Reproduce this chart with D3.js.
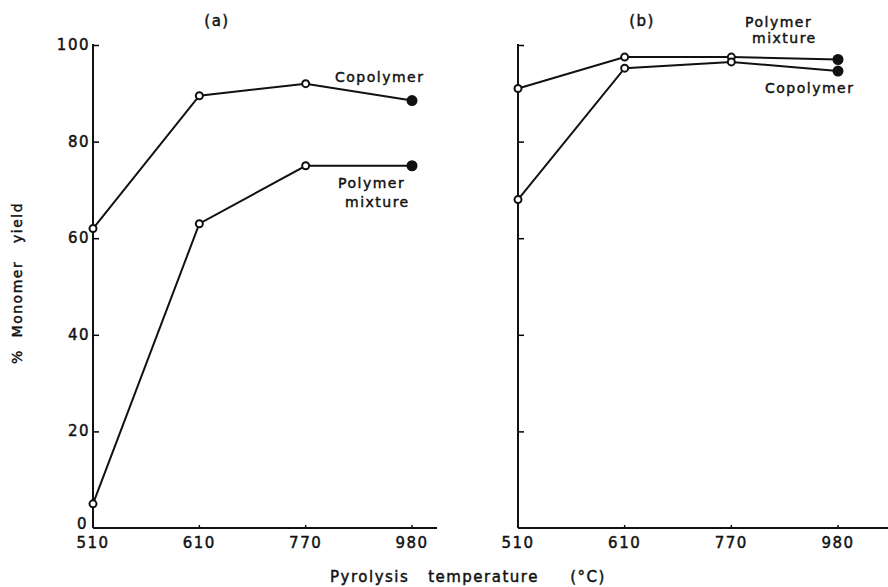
<!DOCTYPE html>
<html>
<head>
<meta charset="utf-8">
<script src="https://cdn.jsdelivr.net/npm/d3@7"></script>
<style>
  body { margin: 0; background: #fff; }
  text { font-family: "DejaVu Sans", sans-serif; fill: #111; stroke: #111; stroke-width: 0.45px; letter-spacing: 1.5px; }
</style>
</head>
<body>
<svg id="chart" width="888" height="587"></svg>
<script>
const temps = ["510", "610", "770", "980"];
const yTicks = [0, 20, 40, 60, 80, 100];

// panel (a)
const copolymerA = [62, 89.5, 92, 88.5];
const mixtureA = [5, 63, 75, 75];

// panel (b)
const mixtureB = [91, 97.5, 97.5, 97];
const copolymerB = [68, 95.2, 96.5, 94.6];

const svg = d3.select("#chart");
const y = d3.scaleLinear().domain([0, 100]).range([528, 45]);

const panels = [
  { title: "(a)", x0: 93, x1: 412, axisEnd: 437, labels: true,
    series: [copolymerA, mixtureA] },
  { title: "(b)", x0: 518, x1: 838, axisEnd: 888, labels: false,
    series: [mixtureB, copolymerB] }
];

panels.forEach(p => {
  const x = d3.scalePoint().domain(temps).range([p.x0, p.x1]);
  const g = svg.append("g");

  // y axis, ticks pointing inward
  const yAxis = d3.axisRight(y).tickValues(yTicks.filter(d => d > 0))
    .tickSize(6).tickFormat("");
  g.append("g").attr("transform", `translate(${p.x0},0)`).call(yAxis)
    .call(s => s.select(".domain").remove())
    .call(s => s.selectAll(".tick line").attr("stroke-width", 1.5));
  g.append("line")
    .attr("x1", p.x0).attr("x2", p.x0)
    .attr("y1", y(100) - 1).attr("y2", y(0))
    .attr("stroke", "#111").attr("stroke-width", 2);

  // x axis
  g.append("line")
    .attr("x1", p.x0).attr("x2", p.axisEnd)
    .attr("y1", y(0)).attr("y2", y(0))
    .attr("stroke", "#111").attr("stroke-width", 2);
  g.selectAll(".xt").data(temps.slice(1)).enter().append("line")
    .attr("x1", d => x(d)).attr("x2", d => x(d))
    .attr("y1", y(0)).attr("y2", y(0) - 3)
    .attr("stroke", "#111").attr("stroke-width", 1.5);
  g.selectAll(".xl").data(temps).enter().append("text")
    .attr("x", d => x(d)).attr("y", 548)
    .attr("text-anchor", "middle").style("font-size", "15px")
    .text(d => d);

  if (p.labels) {
    g.selectAll(".yl").data(yTicks).enter().append("text")
      .attr("x", d => d === 0 ? p.x0 - 5 : p.x0 - 3)
      .attr("y", d => d === 0 ? y(d) + 1 : y(d) + 5)
      .attr("text-anchor", "end").style("font-size", "15px")
      .text(d => d);
  }

  g.append("text").attr("x", p.x0 + 124).attr("y", 26)
    .attr("text-anchor", "middle").style("font-size", "15px").text(p.title);

  const line = d3.line().x((d, i) => x(temps[i])).y(d => y(d));
  p.series.forEach(vals => {
    g.append("path").datum(vals)
      .attr("d", line).attr("fill", "none")
      .attr("stroke", "#111").attr("stroke-width", 2);
    g.selectAll(null).data(vals).enter().append("circle")
      .attr("cx", (d, i) => x(temps[i])).attr("cy", d => y(d))
      .attr("r", (d, i) => i === vals.length - 1 ? 4.5 : 3.5)
      .attr("fill", (d, i) => i === vals.length - 1 ? "#111" : "#fff")
      .attr("stroke", "#111").attr("stroke-width", 2);
  });
});

// series labels
const lab = (x, yy, t) => svg.append("text").attr("x", x).attr("y", yy)
  .style("font-size", "14px").text(t);
lab(335, 82, "Copolymer");
lab(338, 188, "Polymer");
lab(345, 207, "mixture");
lab(745, 27, "Polymer");
lab(752, 43, "mixture");
lab(765, 93, "Copolymer");

// axis titles
svg.append("text").attr("x", 468).attr("y", 582)
  .attr("text-anchor", "middle").style("font-size", "15px")
  .attr("xml:space", "preserve")
  .text("Pyrolysis   temperature     (°C)");
svg.append("text")
  .attr("transform", "translate(22,283) rotate(-90)")
  .attr("text-anchor", "middle").style("font-size", "14px")
  .attr("xml:space", "preserve")
  .text("%  Monomer   yield");
</script>
</body>
</html>
